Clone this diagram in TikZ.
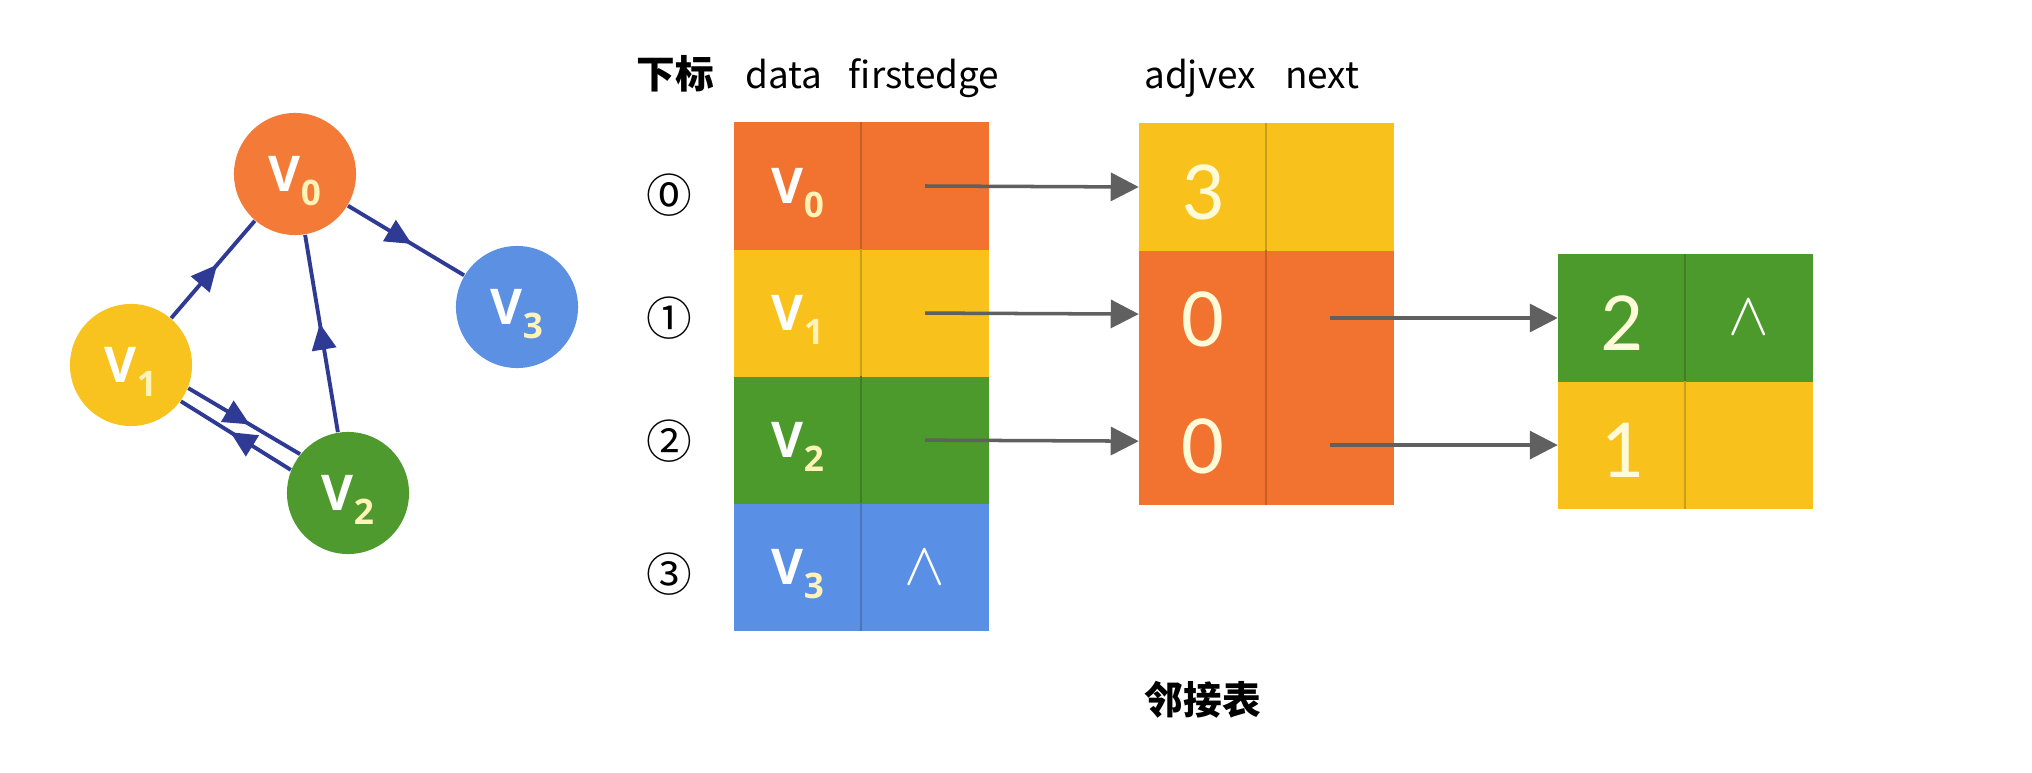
\documentclass[tikz,border=0pt]{standalone}
\usepackage{fontspec}
\setmainfont{Noto Sans CJK SC}
\newfontfamily\numfont{Carlito}
\newfontfamily\circfont{Noto Sans CJK SC}
\newfontfamily\vfont{Open Sans}
\usetikzlibrary{shapes,arrows.meta,decorations.markings}
\usepackage{xcolor}
\definecolor{corange}{HTML}{F47A38}
\definecolor{cyellow}{HTML}{F8C31E}
\definecolor{cgreen}{HTML}{4E9A2E}
\definecolor{cblue}{HTML}{5B90E2}
\definecolor{torange}{HTML}{F2732F}
\definecolor{tyellow}{HTML}{F8C11C}
\definecolor{tgreen}{HTML}{4C9A2C}
\definecolor{tblue}{HTML}{5A8FE6}
\definecolor{navy}{HTML}{2E3A94}
\definecolor{ptrgray}{HTML}{606060}
\definecolor{subyellow}{HTML}{FFF3B8}
\definecolor{numwhite}{HTML}{FFFBD8}
\providecommand{\vlab}[1]{{\vfont\bfseries\fontsize{14}{16}\selectfont V\raisebox{-4pt}[\height][0pt]{\fontsize{10}{12}\selectfont\color{subyellow}#1}}}
\newcommand{\cellnum}[1]{{\numfont\fontsize{24}{28}\selectfont\color{numwhite}\raisebox{-0.05cm}[\height][0pt]{#1}}}
\newcommand{\nilmark}{{\fontsize{16}{18}\selectfont$\wedge$}}
\tikzstyle{vert} = [circle, minimum size=1.22cm, inner sep=0pt, text=white]
\tikzstyle{cellbox} = [rectangle, minimum width=1.27cm, minimum height=1.27cm, inner sep=0pt, text=white]
\tikzstyle{graphedge} = [color=navy, line width=1.1pt, decoration={markings, mark=at position 0.55 with {\arrow{Triangle[length=2.6mm,width=2.4mm]}}}, postaction={decorate}]
\tikzstyle{ptr} = [->, draw=ptrgray, line width=1pt]
\tikzstyle{colhead} = [anchor=base, font=\fontsize{10.5}{13}\selectfont]
\tikzstyle{circnum} = [font=\circfont\fontsize{13}{16}\selectfont]

\begin{document}
\begin{tikzpicture}[x=0.01cm, y=0.01cm, node distance=1.27cm, >={Triangle[length=2.8mm,width=2.8mm]}]
    \fill [white] (0,0) rectangle (2032,-773);
    \useasboundingbox (0,0) rectangle (2032,-773);

    % Graph
    \node [vert, fill=corange] (v0) at (295,-174) {\vlab{0}};
    \node [vert, fill=cyellow] (v1) at (131,-365) {\vlab{1}};
    \node [vert, fill=cgreen] (v2) at (348,-493) {\vlab{2}};
    \node [vert, fill=cblue] (v3) at (517,-307) {\vlab{3}};
    \draw [graphedge] (v1) -- (v0);
    \draw [graphedge] (v2) -- (v0);
    \draw [graphedge] (v0) -- (v3);
    \draw [graphedge] (v1.-22) -- (v2.141);
    \draw [graphedge] (v2.158) -- (v1.-36);

    % Headers
    \node [colhead, font=\fontsize{11}{13}\selectfont\bfseries] (hidx) at (675,-89) {下标};
    \node [colhead] (hdat) at (784,-89) {data};
    \node [colhead] (hfst) at (924,-89) {firstedge};
    \node [colhead] (hadj) at (1200,-89) {adjvex};
    \node [colhead] (hnxt) at (1322,-89) {next};

    % Vertex table
    \node [cellbox, fill=torange] (dat0) at (798,-186) {\vlab{0}};
    \node [cellbox, fill=torange, right of=dat0] (fst0) {};
    \node [cellbox, fill=tyellow, below of=dat0] (dat1) {\vlab{1}};
    \node [cellbox, fill=tyellow, right of=dat1] (fst1) {};
    \node [cellbox, fill=tgreen, below of=dat1] (dat2) {\vlab{2}};
    \node [cellbox, fill=tgreen, right of=dat2] (fst2) {};
    \node [cellbox, fill=tblue, below of=dat2] (dat3) {\vlab{3}};
    \node [cellbox, fill=tblue, right of=dat3] (fst3) {\nilmark};
    \draw [draw=torange!82!black, line width=0.6pt] (fst0.north west) -- (fst0.south west);
    \draw [draw=tyellow!82!black, line width=0.6pt] (fst1.north west) -- (fst1.south west);
    \draw [draw=tgreen!82!black, line width=0.6pt] (fst2.north west) -- (fst2.south west);
    \draw [draw=tblue!82!black, line width=0.6pt] (fst3.north west) -- (fst3.south west);

    \node [circnum] (i0) at (669,-195) {⓪};
    \node [circnum] (i1) at (669,-318) {①};
    \node [circnum] (i2) at (669,-441) {②};
    \node [circnum] (i3) at (669,-574) {③};

    % Edge lists
    \node [cellbox, fill=tyellow] (adj0) at (1203,-187) {\cellnum{3}};
    \node [cellbox, fill=tyellow, right of=adj0] (nxt0) {};
    \node [cellbox, fill=torange, below of=adj0] (adj1) {\cellnum{0}};
    \node [cellbox, fill=torange, right of=adj1] (nxt1) {};
    \node [cellbox, fill=torange, below of=adj1] (adj2) {\cellnum{0}};
    \node [cellbox, fill=torange, right of=adj2] (nxt2) {};
    \node [cellbox, fill=tgreen] (adj3) at (1622,-318) {\cellnum{2}};
    \node [cellbox, fill=tgreen, right of=adj3] (nxt3) {\nilmark};
    \node [cellbox, fill=tyellow, below of=adj3] (adj4) {\cellnum{1}};
    \node [cellbox, fill=tyellow, right of=adj4] (nxt4) {};
    \draw [draw=tyellow!82!black, line width=0.6pt] (nxt0.north west) -- (nxt0.south west);
    \draw [draw=torange!82!black, line width=0.6pt] (nxt1.north west) -- (nxt1.south west);
    \draw [draw=torange!82!black, line width=0.6pt] (nxt2.north west) -- (nxt2.south west);
    \draw [draw=tgreen!82!black, line width=0.6pt] (nxt3.north west) -- (nxt3.south west);
    \draw [draw=tyellow!82!black, line width=0.6pt] (nxt4.north west) -- (nxt4.south west);

    \draw [ptr] (fst0.center) -- (adj0.west);
    \draw [ptr] (fst1.center) -- (adj1.west);
    \draw [ptr] (fst2.center) -- (adj2.west);
    \draw [ptr] (nxt1 |- adj3) -- (adj3.west);
    \draw [ptr] (nxt2 |- adj4) -- (adj4.west);

    \node [font=\fontsize{11}{13}\selectfont\bfseries] (cap) at (1203,-700) {邻接表};
\end{tikzpicture}
\end{document}
